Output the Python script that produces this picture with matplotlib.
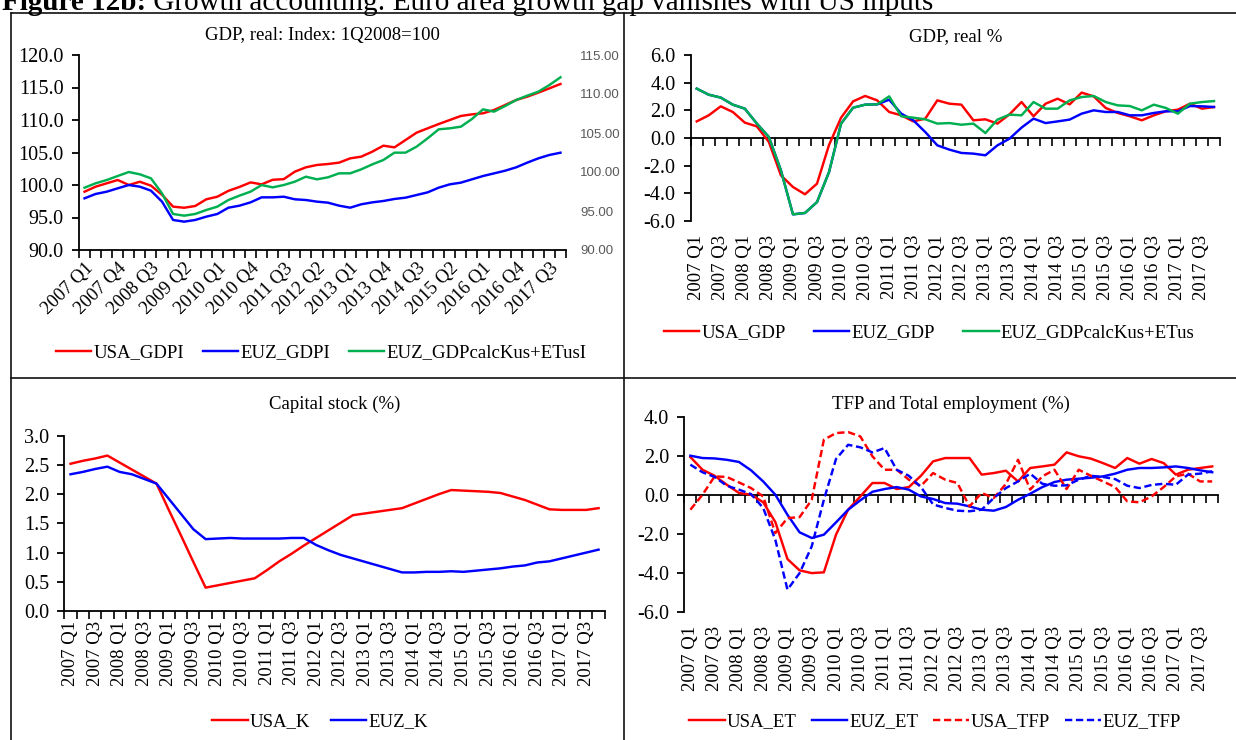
import numpy as np
import matplotlib
matplotlib.use('Agg')
import matplotlib.pyplot as plt
from matplotlib.ticker import FormatStrFormatter
from matplotlib.lines import Line2D

plt.rcParams['font.family'] = ['Liberation Serif', 'DejaVu Serif']
plt.rcParams['font.size'] = 13.5

# 2007 Q1 .. 2017 Q4
quarters = ['%d Q%d' % (y, q) for y in range(2007, 2018) for q in range(1, 5)]

# GDP, real: Index (green is on the secondary axis)
usa_gdpi = [98.97, 99.74, 100.26, 100.77, 100.0, 100.5, 99.9, 98.5, 96.67, 96.5,
            96.77, 97.8, 98.2, 99.1, 99.7, 100.4, 100.1, 100.8, 100.9, 102.05,
            102.72, 103.08, 103.23, 103.44, 104.1, 104.36, 105.13, 106.05, 105.79, 106.92,
            108.05, 108.72, 109.38, 110.0, 110.62, 110.87, 111.03, 111.54, 112.31, 113.08,
            113.59, 114.21, 114.87, 115.54]
euz_gdpi = [97.95, 98.62, 98.97, 99.49, 100.0, 99.74, 99.13, 97.44, 94.62, 94.36,
            94.62, 95.13, 95.54, 96.51, 96.82, 97.33, 98.1, 98.1, 98.2, 97.8,
            97.69, 97.44, 97.28, 96.82, 96.51, 97.03, 97.33, 97.54, 97.85, 98.05,
            98.46, 98.87, 99.59, 100.1, 100.36, 100.87, 101.38, 101.79, 102.2, 102.72,
            103.44, 104.1, 104.62, 104.97]
euz_calc_i = [97.99, 98.55, 98.97, 99.49, 100.0, 99.70, 99.19, 97.26, 94.62, 94.40,
              94.62, 95.13, 95.56, 96.41, 96.97, 97.48, 98.33, 98.03, 98.33, 98.76,
              99.40, 99.06, 99.32, 99.83, 99.83, 100.34, 100.98, 101.54, 102.48, 102.48,
              103.25, 104.32, 105.47, 105.60, 105.81, 106.79, 108.03, 107.74, 108.46, 109.23,
              109.79, 110.30, 111.15, 112.14]

# GDP, real %
usa_gdp = [1.20, 1.64, 2.29, 1.88, 1.11, 0.84, -0.29, -2.70, -3.54, -4.07,
           -3.30, -0.5, 1.47, 2.65, 3.04, 2.72, 1.88, 1.64, 1.20, 1.40,
           2.72, 2.48, 2.41, 1.28, 1.35, 1.04, 1.71, 2.60, 1.57, 2.48,
           2.84, 2.43, 3.28, 3.01, 2.17, 1.81, 1.57, 1.28, 1.64, 1.93,
           2.05, 2.48, 2.12, 2.24]
euz_gdp = [3.57, 3.13, 2.92, 2.41, 2.12, 1.04, 0.07, -2.34, -5.52, -5.42,
           -4.63, -2.46, 1.04, 2.19, 2.41, 2.43, 2.77, 1.76, 1.28, 0.43,
           -0.53, -0.84, -1.08, -1.13, -1.25, -0.53, -0.05, 0.75, 1.40, 1.08,
           1.20, 1.33, 1.76, 2.0, 1.88, 1.88, 1.64, 1.64, 1.81, 1.93,
           1.93, 2.31, 2.29, 2.24]
euz_calc = [3.57, 3.13, 2.92, 2.41, 2.12, 1.04, 0.07, -2.34, -5.52, -5.42,
            -4.63, -2.46, 1.04, 2.19, 2.41, 2.43, 3.01, 1.57, 1.47, 1.35,
            1.04, 1.08, 0.96, 1.04, 0.36, 1.33, 1.69, 1.64, 2.60, 2.12,
            2.12, 2.72, 2.96, 3.04, 2.60, 2.36, 2.31, 2.0, 2.41, 2.17,
            1.76, 2.48, 2.60, 2.67]

# Capital stock (%)
usa_k = [2.52, 2.57, 2.61, 2.66, 2.54, 2.42, 2.30, 2.18, 1.73, 1.29,
         0.84, 0.40, 0.44, 0.48, 0.52, 0.56, 0.70, 0.85, 0.98, 1.12,
         1.25, 1.38, 1.51, 1.64, 1.67, 1.70, 1.73, 1.76, 1.84, 1.92,
         2.00, 2.07, 2.06, 2.05, 2.04, 2.02, 1.96, 1.90, 1.82, 1.74,
         1.73, 1.73, 1.73, 1.76]
euz_k = [2.34, 2.38, 2.43, 2.47, 2.38, 2.34, 2.26, 2.18, 1.92, 1.66,
         1.40, 1.23, 1.24, 1.25, 1.24, 1.24, 1.24, 1.24, 1.25, 1.25,
         1.13, 1.04, 0.96, 0.90, 0.84, 0.78, 0.72, 0.66, 0.66, 0.67,
         0.67, 0.68, 0.67, 0.69, 0.71, 0.73, 0.76, 0.78, 0.83, 0.85,
         0.90, 0.95, 1.00, 1.05]

# TFP and Total employment (%)
usa_et = [1.93, 1.28, 0.97, 0.51, 0.09, 0.0, -0.39, -1.40, -3.30, -3.88,
          -4.02, -3.98, -2.05, -0.77, -0.09, 0.60, 0.60, 0.29, 0.39, 0.97,
          1.71, 1.88, 1.88, 1.88, 1.03, 1.11, 1.23, 0.68, 1.37, 1.45,
          1.54, 2.17, 1.97, 1.85, 1.62, 1.37, 1.88, 1.59, 1.83, 1.62,
          1.03, 1.28, 1.37, 1.45]
euz_et = [2.0, 1.88, 1.86, 1.79, 1.68, 1.25, 0.68, 0.0, -1.03, -1.93,
          -2.22, -2.05, -1.42, -0.77, -0.29, 0.15, 0.29, 0.39, 0.26, -0.09,
          -0.22, -0.43, -0.46, -0.60, -0.77, -0.82, -0.63, -0.26, 0.05, 0.39,
          0.65, 0.77, 0.82, 0.87, 0.94, 1.08, 1.28, 1.37, 1.37, 1.40,
          1.45, 1.37, 1.25, 1.15]
usa_tfp = [-0.77, 0.0, 0.94, 0.91, 0.63, 0.34, -0.09, -1.97, -1.20, -1.15,
           -0.26, 2.82, 3.16, 3.21, 2.99, 1.97, 1.28, 1.28, 0.77, 0.45,
           1.11, 0.77, 0.60, -0.60, 0.09, -0.17, 0.55, 1.79, 0.26, 0.94,
           1.28, 0.29, 1.28, 0.97, 0.68, 0.39, -0.34, -0.39, -0.09, 0.39,
           0.94, 1.08, 0.68, 0.68]
euz_tfp = [1.54, 1.15, 0.91, 0.46, 0.26, 0.03, -0.68, -2.31, -4.87, -4.02,
           -2.65, -0.26, 1.83, 2.56, 2.43, 2.17, 2.39, 1.28, 0.97, 0.39,
           -0.50, -0.68, -0.82, -0.85, -0.77, -0.17, 0.34, 0.68, 1.08, 0.56,
           0.46, 0.48, 0.77, 0.97, 0.91, 0.80, 0.46, 0.34, 0.50, 0.56,
           0.51, 1.03, 1.08, 1.20]

RED, BLUE, GREEN = '#ff0000', '#0000ff', '#00b050'
LW = 1.75
DASH = (0, (3, 1.5))
W, H = 1236, 740
x = np.arange(len(quarters))

fig = plt.figure(figsize=(W / 100, H / 100), dpi=100)


def add_ax(l, t, r, b):
    # pixel box -> figure fraction
    return fig.add_axes([l / W, 1 - b / H, (r - l) / W, (b - t) / H])


def style(ax, lo, hi, step, every):
    ax.set_xlim(-0.5, len(quarters) - 0.5)
    ax.set_ylim(lo, hi)
    ax.set_yticks(np.arange(lo, hi + step / 2, step))
    ax.yaxis.set_major_formatter(FormatStrFormatter('%.1f'))
    ax.spines['top'].set_visible(False)
    ax.spines['right'].set_visible(False)
    ax.spines['left'].set_linewidth(1.3)
    ax.spines['bottom'].set_linewidth(1.3)
    ax.tick_params(axis='y', direction='out', length=5, width=1.3, pad=6,
                   labelsize=14.5)
    xt = np.arange(0, len(quarters), every)
    ax.set_xticks(xt)
    ax.set_xticklabels([quarters[i] for i in xt])
    ax.set_xticks(np.arange(-0.5, len(quarters)), minor=True)
    ax.tick_params(axis='x', which='major', length=0)
    ax.tick_params(axis='x', which='minor', direction='out', length=6, width=1.2)


def zero_axis(ax, lo, hi):
    # category axis crosses at 0, labels stay at the bottom
    ax.spines['bottom'].set_visible(False)
    ax.tick_params(axis='x', which='minor', length=0)
    sec = ax.secondary_xaxis(-lo / (hi - lo))
    sec.set_alignment('bottom')
    sec.set_xticks(np.arange(-0.5, len(quarters)))
    sec.tick_params(axis='x', direction='out', length=6, width=1.2,
                    labelbottom=False, labeltop=False)
    sec.spines['bottom'].set_linewidth(1.3)


def legend(ax, handles, cx, cy, colsp):
    ax.legend(handles=handles, loc='center', bbox_to_anchor=(cx / W, 1 - cy / H),
              bbox_transform=fig.transFigure, ncol=len(handles), frameon=False,
              handlelength=1.9, handletextpad=0.1, columnspacing=colsp,
              borderaxespad=0, borderpad=0, fontsize=13.5)


# --- GDP index ---
ax1 = add_ax(79, 55, 566, 250)
style(ax1, 90, 120, 5, 3)
l1, = ax1.plot(x, usa_gdpi, color=RED, lw=LW, label='USA_GDPI')
l2, = ax1.plot(x, euz_gdpi, color=BLUE, lw=LW, label='EUZ_GDPI')
ax1r = ax1.twinx()
l3, = ax1r.plot(x, euz_calc_i, color=GREEN, lw=LW, label='EUZ_GDPcalcKus+ETusI')
ax1r.set_ylim(90, 115)
rt = np.arange(90, 116, 5)
ax1r.set_yticks(rt, labels=['%.2f' % v for v in rt], fontfamily='Liberation Sans',
                fontsize=9.5, color='#595959')
ax1r.tick_params(axis='y', length=0, pad=10)
for s in ax1r.spines.values():
    s.set_visible(False)
plt.setp(ax1.get_xticklabels(), rotation=45, ha='right', va='top',
         rotation_mode='anchor')
ax1.tick_params(axis='x', which='major', pad=7)
ax1.set_title('GDP, real: Index: 1Q2008=100', fontsize=13.5, pad=11)
legend(ax1, [l1, l2, l3], 321, 353, 1.0)

# --- GDP real % ---
ax2 = add_ax(690.7, 55, 1220, 221)
style(ax2, -6, 6, 2, 2)
h1, = ax2.plot(x, usa_gdp, color=RED, lw=LW, label='USA_GDP')
h2, = ax2.plot(x, euz_gdp, color=BLUE, lw=LW, label='EUZ_GDP')
h3, = ax2.plot(x, euz_calc, color=GREEN, lw=LW, label='EUZ_GDPcalcKus+ETus')
zero_axis(ax2, -6, 6)
plt.setp(ax2.get_xticklabels(), rotation=90, ha='center', va='top')
ax2.tick_params(axis='x', which='major', pad=10)
ax2.set_title('GDP, real %', fontsize=13.5, pad=10)
legend(ax2, [h1, h2, h3], 929, 333, 1.5)

# --- Capital stock ---
ax3 = add_ax(64.4, 435.7, 604.7, 611)
style(ax3, 0, 3, 0.5, 2)
k1, = ax3.plot(x, usa_k, color=RED, lw=LW, label='USA_K')
k2, = ax3.plot(x, euz_k, color=BLUE, lw=LW, label='EUZ_K')
plt.setp(ax3.get_xticklabels(), rotation=90, ha='center', va='top')
ax3.tick_params(axis='x', which='major', pad=7)
ax3.set_title('Capital stock (%)', fontsize=13.5, pad=19)
legend(ax3, [k1, k2], 320, 722, 1.1)

# --- TFP and employment ---
ax4 = add_ax(684.3, 416.7, 1218.3, 611.7)
style(ax4, -6, 4, 2, 2)
e1, = ax4.plot(x, usa_et, color=RED, lw=LW, label='USA_ET')
e2, = ax4.plot(x, euz_et, color=BLUE, lw=LW, label='EUZ_ET')
e3, = ax4.plot(x, usa_tfp, color=RED, lw=LW, ls=DASH, label='USA_TFP')
e4, = ax4.plot(x, euz_tfp, color=BLUE, lw=LW, ls=DASH, label='EUZ_TFP')
zero_axis(ax4, -6, 4)
plt.setp(ax4.get_xticklabels(), rotation=90, ha='center', va='top')
ax4.tick_params(axis='x', which='major', pad=10)
ax4.set_title('TFP and Total employment (%)', fontsize=13.5, pad=5.5)
legend(ax4, [e1, e2, e3, e4], 935, 722, 0.8)

# panel frames
for x0, y0, x1, y1 in [(11, 13, 1236, 13), (11, 13, 11, 740), (11, 378, 1236, 378),
                       (624, 13, 624, 740)]:
    fig.add_artist(Line2D([x0 / W, x1 / W], [1 - y0 / H, 1 - y1 / H],
                          transform=fig.transFigure, color='#111111', lw=1.2))

# figure heading, cut off at the top like the source page
t1 = fig.text(2 / W, 1 - 10 / H, 'Figure 12b:', fontsize=21, fontweight='bold',
              va='baseline', ha='left')
ax1.annotate(' Growth accounting: Euro area growth gap vanishes with US inputs',
             xy=(1, 0), xycoords=t1, va='bottom', ha='left', fontsize=21,
             annotation_clip=False)

fig.savefig('out.png', dpi=100)
